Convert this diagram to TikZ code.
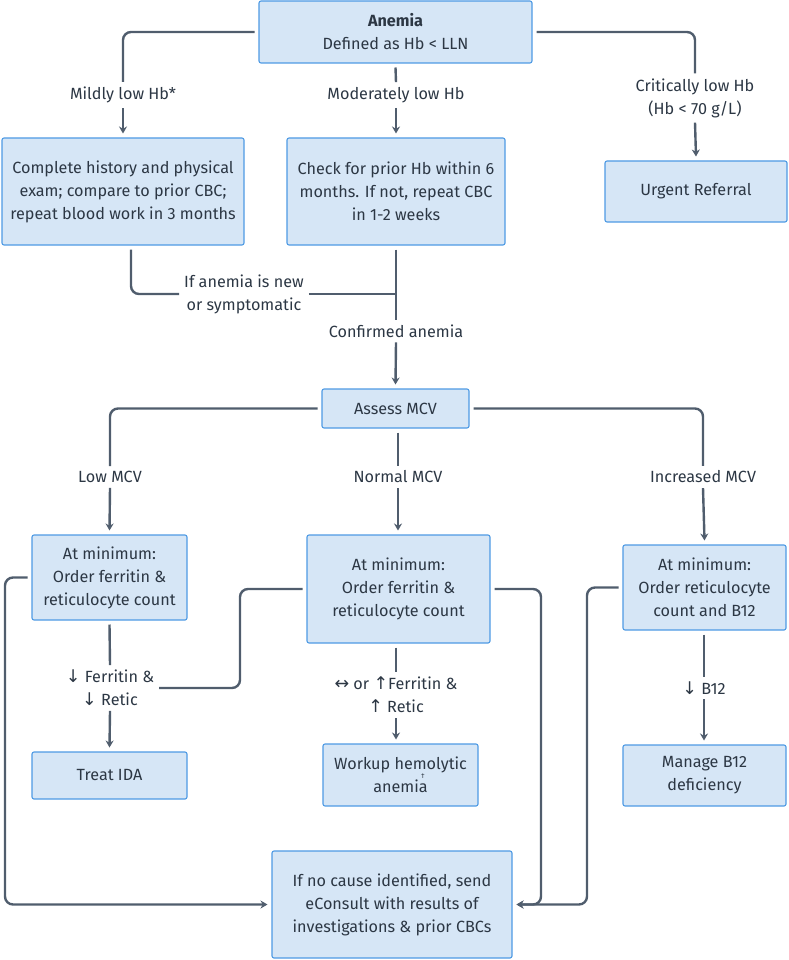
\documentclass[tikz,border=0pt]{standalone}
\usepackage{fontspec}
\setmainfont{Fira Sans}
\newfontfamily\arrfont{DejaVu Sans}
\usepackage{tikz}
\usetikzlibrary{arrows.meta}

\definecolor{boxfill}{HTML}{D6E6F6}
\definecolor{boxline}{HTML}{4E9AE4}
\definecolor{wirecol}{HTML}{505D6D}
\definecolor{ink}{HTML}{2C3744}
\newcommand{\arr}[1]{{\arrfont\fontsize{17.5}{23}\selectfont #1}}

\tikzset{
  stepbox/.style={draw=boxline, fill=boxfill, line width=1.1pt, rounded corners=2pt,
    align=center, text=ink, inner sep=0pt, outer sep=4.5pt},
  cond/.style={align=center, text=ink, inner sep=0pt, outer sep=5pt},
  link/.style={draw=wirecol, line width=2.4pt, rounded corners=8pt},
  go/.style={link, -{Stealth[length=7pt,width=8pt]}}
}

\begin{document}
\begin{tikzpicture}[x=1pt, y=-1pt, font=\fontsize{16.2}{23}\selectfont]
    \useasboundingbox (0,0) rectangle (788,960);

    \node[stepbox, minimum width=273, minimum height=62] (anemia) at (395.5,32) {{\bfseries Anemia}\\Defined as Hb < LLN};
    \node[cond] (mild) at (123,95) {Mildly low Hb*};
    \node[cond] (moder) at (396,95) {Moderately low Hb};
    \node[cond] (crit) at (695,98) {Critically low Hb\\(Hb < 70 g/L)};
    \node[stepbox, minimum width=242, minimum height=107] (hist) at (123,191.5) {Complete history and physical\\exam; compare to prior CBC;\\repeat blood work in 3 months};
    \node[stepbox, minimum width=218, minimum height=107] (check) at (396,191.5) {Check for prior Hb within 6\\months. If not, repeat CBC\\in 1-2 weeks};
    \node[stepbox, minimum width=182, minimum height=61] (urgent) at (696,191.5) {Urgent Referral};
    \node[cond] (newsym) at (244,294) {If anemia is new\\or symptomatic};
    \node[cond] (confirm) at (396,331) {Confirmed anemia};
    \node[stepbox, minimum width=147, minimum height=39] (mcv) at (395.5,408.5) {Assess MCV};

    \node[cond] (lowlab) at (110,477) {Low MCV};
    \node[cond] (normlab) at (398,477) {Normal MCV};
    \node[cond] (inclab) at (703,477) {Increased MCV};
    \node[stepbox, minimum width=155, minimum height=85] (lowbox) at (109.5,577.5) {At minimum:\\Order ferritin \&\\reticulocyte count};
    \node[stepbox, minimum width=183, minimum height=108] (normbox) at (398.5,589) {At minimum:\\Order ferritin \&\\reticulocyte count};
    \node[stepbox, minimum width=163, minimum height=85] (incbox) at (704.5,587.5) {At minimum:\\Order reticulocyte\\count and B12};
    \node[cond] (lowres) at (110,688) {\arr{↓} Ferritin \&\\\arr{↓} Retic};
    \node[cond] (normres) at (396,695) {\arr{↔} or \arr{↑}Ferritin \&\\\arr{↑} Retic};
    \node[cond] (incres) at (704,688) {\arr{↓} B12};
    \node[stepbox, minimum width=155, minimum height=47] (ida) at (109.5,775.5) {Treat IDA};
    \node[stepbox, minimum width=155, minimum height=62] (hemo) at (400.5,775) {Workup hemolytic\\anemia};
    \node[text=ink, inner sep=0pt, font=\fontsize{7}{8}\selectfont] (dag) at (423,776) {†};
    \node[stepbox, minimum width=163, minimum height=61] (b12) at (704.5,775.5) {Manage B12\\deficiency};
    \node[stepbox, minimum width=240, minimum height=107] (econ) at (392,904.5) {If no cause identified, send\\eConsult with results of\\investigations \& prior CBCs};

    \coordinate (lbend) at (240,640);
    \coordinate (nright) at (541,750);
    \coordinate (ileft) at (587,750);
    \coordinate (lleft) at (5,750);

    \draw[link] (anemia.west) -| (mild.north);
    \draw[go] (mild.south) -- (hist.north);
    \draw[link] (anemia.south) -- (moder.north);
    \draw[go] (moder.south) -- (check.north);
    \draw[link] (anemia.east) -| (crit.north);
    \draw[go] (crit.south) -- (urgent.north);
    \draw[link] ([xshift=8pt]hist.south) |- (newsym.west);
    \draw[link] (newsym.east) -- (newsym.east -| check.south);
    \draw[link] (check.south) -- (confirm.north);
    \draw[go] (confirm.south) -- (mcv.north);

    \draw[link] (mcv.west) -| (lowlab.north);
    \draw[go] (lowlab.south) -- (lowbox.north);
    \draw[link] (mcv.south -| normlab.north) -- (normlab.north);
    \draw[go] (normlab.south) -- (normlab.south |- normbox.north);
    \draw[link] (mcv.east) -| (inclab.north);
    \draw[go] (inclab.south) -- (incbox.north);

    \draw[link] (lowbox.south) -- (lowres.north);
    \draw[go] (lowres.south) -- (ida.north);
    \draw[link] (lowres.east) -| (lbend) |- (normbox.west);
    \draw[link] (normbox.south -| normres.north) -- (normres.north);
    \draw[go] (normres.south) -- (normres.south |- hemo.north);
    \draw[link] (incbox.south -| incres.north) -- (incres.north);
    \draw[go] (incres.south) -- (incres.south |- b12.north);

    \draw[go] (lowbox.west) -| (lleft) |- (econ.west);
    \draw[go] (normbox.east) -| (nright) |- (econ.east);
    \draw[go] (incbox.west) -| (ileft) |- (econ.east);
\end{tikzpicture}
\end{document}
